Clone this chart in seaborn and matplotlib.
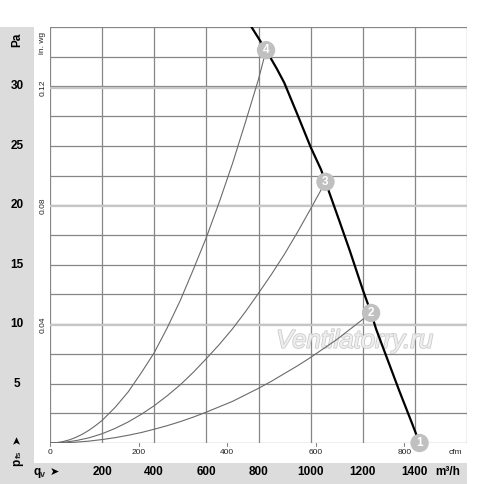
import matplotlib
matplotlib.use("Agg")
import matplotlib.pyplot as plt
import matplotlib.patheffects as pe
import seaborn as sns
import pandas as pd
from matplotlib.patches import Rectangle

# ---------------- data ----------------
# fan operating curve (m3/h, Pa)
fan_q = [773, 829, 870, 899, 950, 1000, 1040, 1057, 1110, 1150, 1200, 1232, 1251, 1280, 1340, 1390, 1418]
fan_p = [35.0, 33.05, 31.5, 30.3, 27.6, 24.9, 23.0, 21.97, 18.7, 16.2, 12.9, 10.94, 9.6, 7.9, 4.4, 1.6, 0.0]

# system curves
sys4_q = [0, 25, 50, 75, 100, 125, 150, 175, 200, 250, 300, 350, 400, 450, 500, 550, 600, 650, 700, 750, 800, 829]
sys4_p = [0, 0.03, 0.12, 0.27, 0.48, 0.75, 1.08, 1.47, 1.9, 3.0, 4.3, 5.9, 7.6, 9.7, 12.0, 14.6, 17.3, 20.3, 23.5, 27.0, 30.6, 33.05]
sys3_q = [0, 50, 100, 150, 200, 250, 300, 350, 400, 450, 500, 550, 600, 650, 700, 750, 800, 850, 900, 950, 1000, 1057]
sys3_p = [0, 0.05, 0.2, 0.44, 0.78, 1.23, 1.77, 2.41, 3.14, 3.98, 4.9, 5.95, 7.1, 8.3, 9.6, 11.05, 12.6, 14.2, 15.9, 17.75, 19.7, 21.97]
sys2_q = [0, 50, 100, 150, 200, 250, 300, 350, 400, 450, 500, 550, 600, 650, 700, 750, 800, 850, 900, 950, 1000, 1050, 1100, 1150, 1200, 1232]
sys2_p = [0, 0.02, 0.07, 0.16, 0.29, 0.45, 0.65, 0.88, 1.16, 1.46, 1.8, 2.18, 2.6, 3.05, 3.5, 4.05, 4.6, 5.2, 5.85, 6.5, 7.2, 7.95, 8.7, 9.55, 10.4, 10.94]

# operating points
pt_label = ["1", "2", "3", "4"]
pt_q = [1418, 1232, 1057, 829]
pt_p = [0.0, 10.94, 21.97, 33.05]

# tick labels
m3h_ticks = [200, 400, 600, 800, 1000, 1200, 1400]
pa_ticks = [5, 10, 15, 20, 25, 30]
cfm_ticks = [0, 200, 400, 600, 800]
inwg_ticks = [0.04, 0.08, 0.12]

# ---------------- figure ----------------
sns.set_style("white")
plt.rcParams['font.family'] = ['Liberation Sans', 'DejaVu Sans']

W, H = 500, 484
fig = plt.figure(figsize=(W / 100, H / 100), dpi=100)

def fx(x):
    return x / W

def fy(y):
    return 1 - y / H

BAND = '#dcdcdc'
fig.patches.append(Rectangle((0, 0), fx(34), fy(27), transform=fig.transFigure,
                             facecolor=BAND, edgecolor='none', zorder=-10))
fig.patches.append(Rectangle((0, 0), fx(467), fy(462.5), transform=fig.transFigure,
                             facecolor=BAND, edgecolor='none', zorder=-10))

x0, x1, y0, y1 = 50, 467, 27, 443
ax = fig.add_axes([fx(x0), fy(y1), fx(x1) - fx(x0), fy(y0) - fy(y1)])
ax.set_xlim(0, 1600)
ax.set_ylim(0, 35)
for s in ax.spines.values():
    s.set_visible(False)
ax.set_xticks([])
ax.set_yticks([])
ax.patch.set_alpha(0)

GRID = '#868686'
for xv in range(0, 1601, 200):
    ax.axvline(xv, color=GRID, lw=0.9, zorder=1)
for i in range(15):
    ax.axhline(i * 2.5, color=GRID, lw=0.9, zorder=1)
for w in inwg_ticks:
    ax.axhline(w * 249.089, color='#c6c6c6', lw=1.6, zorder=1.2)

# watermark
ax.text(1170, 8.6, "Ventilatorry.ru", family='Liberation Sans', style='italic',
        fontsize=18.5, color='#eeeeee', ha='center', va='center', zorder=1.5,
        path_effects=[pe.withStroke(linewidth=1.2, foreground='#cccccc')])

LINE = '#6a6a6a'
for q, p in [(sys4_q, sys4_p), (sys3_q, sys3_p), (sys2_q, sys2_p)]:
    sns.lineplot(x=q, y=p, ax=ax, color=LINE, lw=0.8, sort=False, estimator=None, zorder=2)

sns.lineplot(x=fan_q, y=fan_p, ax=ax, color='black', lw=1.6, sort=False, estimator=None, zorder=3)

pts = pd.DataFrame({"q": pt_q, "p": pt_p, "lab": pt_label})
sns.scatterplot(data=pts, x="q", y="p", ax=ax, s=175, color='#c0c0c0', edgecolor='none',
                zorder=4, clip_on=False, legend=False)
for q, p, l in zip(pt_q, pt_p, pt_label):
    ax.text(q, p, l, color='white', fontsize=8.5, fontweight='bold', ha='center', va='center',
            zorder=5, clip_on=False)
ax.set_xlabel("")
ax.set_ylabel("")

# ---------------- labels ----------------
def px_x(q):
    return x0 + q / 1600 * (x1 - x0)

def px_y(p):
    return y1 - p / 35 * (y1 - y0)

BOLD = dict(fontsize=8.5, fontweight='bold', color='black', ha='center', va='center')
# bottom m3/h row
for t in m3h_ticks:
    fig.text(fx(px_x(t)), fy(472), str(t), **BOLD)
fig.text(fx(448), fy(472), "m³/h", **BOLD)
fig.text(fx(37), fy(472), "q", **BOLD)
fig.text(fx(42.5), fy(474.5), "v", fontsize=6.5, fontweight='bold', ha='center', va='center')
fig.text(fx(54), fy(472), "➤", fontsize=8, color='black', ha='center', va='center',
         family='DejaVu Sans')

# left Pa column
for t in pa_ticks:
    fig.text(fx(17), fy(px_y(t)), str(t), **BOLD)
fig.text(fx(17), fy(40), "Pa", rotation=90, **BOLD)
fig.text(fx(17), fy(439), "➤", rotation=90, fontsize=8, color='black', ha='center', va='center',
         family='DejaVu Sans')
fig.text(fx(17), fy(462), "p", rotation=90, **BOLD)
fig.text(fx(19), fy(454), "fs", rotation=90, fontsize=6, fontweight='bold',
         ha='center', va='center')

# cfm scale
SMALL = dict(fontsize=6, color='#222222', ha='center', va='center')
for t in cfm_ticks:
    xx = px_x(t * 1.699)
    fig.text(fx(xx), fy(452), str(t), **SMALL)
    ax.plot([t * 1.699, t * 1.699], [0, -0.25], color=GRID, lw=0.8, clip_on=False)
fig.text(fx(455), fy(452), "cfm", **SMALL)

# in. wg scale
for t in inwg_ticks:
    yy = px_y(t * 249.089)
    fig.text(fx(43), fy(yy), f"{t:.2f}", rotation=90, **SMALL)
fig.text(fx(43), fy(43), "in. wg", rotation=90, **SMALL)

fig.savefig("out.png", dpi=100)
